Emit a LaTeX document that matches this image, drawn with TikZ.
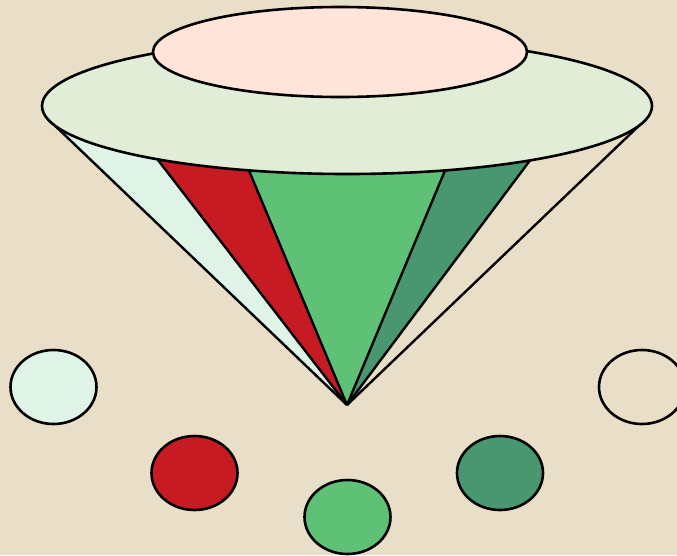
\documentclass[tikz,border=0pt]{standalone}
\definecolor{bg}{HTML}{E9DFC9}
\definecolor{mint}{HTML}{DFF3E6}
\definecolor{rred}{HTML}{C61B22}
\definecolor{lgreen}{HTML}{5FC176}
\definecolor{dgreen}{HTML}{489770}
\definecolor{peach}{HTML}{FFE5D9}
\definecolor{pale}{HTML}{E2EDD7}
\tikzset{
  outline/.style={draw=black, line width=2.6pt},
  dot/.style={outline},
}
\begin{document}
\begin{tikzpicture}[x=1pt,y=-1pt]
\fill[bg] (0,0) rectangle (677,555);
\useasboundingbox (0,0) rectangle (677,555);
% cone points
\coordinate (apex) at (347,405);
\coordinate (L) at (48,119);
\coordinate (A) at (141,138);
\coordinate (B) at (240,149);
\coordinate (C) at (454,149);
\coordinate (D) at (546,139);
\coordinate (R) at (647,118);
% slices
\fill[mint] (apex) -- (L) -- (A) -- cycle;
\fill[rred] (apex) -- (A) -- (B) -- cycle;
\fill[lgreen] (apex) -- (B) -- (C) -- cycle;
\fill[dgreen] (apex) -- (C) -- (D) -- cycle;
\foreach \p in {L,A,B,C,D,R} \draw[black, line width=2.4pt] (\p) -- (apex);
% big ellipse
\draw[outline, fill=pale] (347,106) ellipse [x radius=305, y radius=68];
% top ellipse
\draw[outline, fill=peach] (340,52) ellipse [x radius=187, y radius=45];
% circles
\draw[dot, fill=mint] (53.5,387) ellipse [x radius=43, y radius=37];
\draw[dot, fill=rred] (194.5,473) ellipse [x radius=43, y radius=37];
\draw[dot, fill=lgreen] (347.5,517) ellipse [x radius=43, y radius=37];
\draw[dot, fill=dgreen] (500,473) ellipse [x radius=43, y radius=37];
\draw[dot] (642,387) ellipse [x radius=43, y radius=37];
\end{tikzpicture}
\end{document}
